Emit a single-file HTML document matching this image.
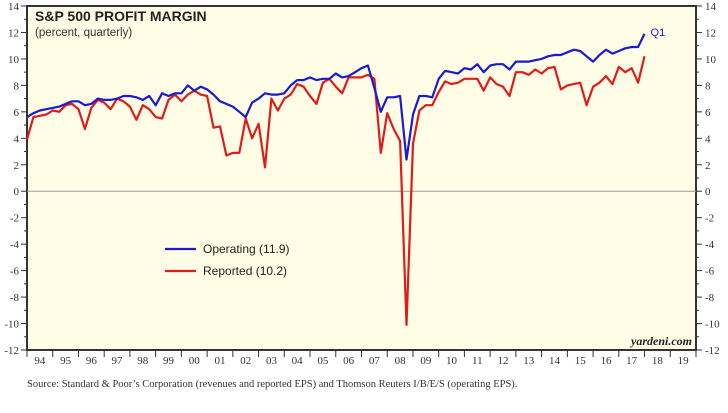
<!DOCTYPE html>
<html><head><meta charset="utf-8"><style>
body{margin:0;background:#fff;width:728px;height:408px;overflow:hidden}
svg text{font-family:"Liberation Serif",serif}
</style></head><body>
<svg id="c" width="728" height="408" xmlns="http://www.w3.org/2000/svg"></svg>
<script>
const years=[94,95,96,97,98,99,"00","01","02","03","04","05","06","07","08","09",10,11,12,13,14,15,16,17,18,19];
const yTicks=[14,12,10,8,6,4,2,0,-2,-4,-6,-8,-10,-12];
const operating=[5.6,5.9,6.1,6.2,6.3,6.4,6.6,6.8,6.8,6.5,6.6,7.0,6.9,6.9,7.0,7.2,7.2,7.1,6.9,7.2,6.5,7.4,7.2,7.4,7.4,8.0,7.6,7.9,7.7,7.3,6.8,6.6,6.4,6.0,5.6,6.7,7.0,7.4,7.3,7.3,7.4,8.0,8.4,8.4,8.6,8.4,8.5,8.5,8.9,8.6,8.7,9.0,9.3,9.5,7.8,6.0,7.1,7.1,7.2,2.4,5.8,7.2,7.2,7.1,8.5,9.1,9.0,8.9,9.3,9.2,9.6,9.0,9.5,9.6,9.6,9.2,9.8,9.8,9.8,9.9,10.0,10.2,10.3,10.3,10.5,10.7,10.6,10.2,9.8,10.3,10.7,10.4,10.6,10.8,10.9,10.9,11.9];
const reported=[3.9,5.6,5.7,5.8,6.1,6.0,6.5,6.6,6.2,4.7,6.3,6.9,6.7,6.2,7.0,6.8,6.4,5.4,6.5,6.2,5.6,5.5,6.9,7.3,6.8,7.3,7.6,7.3,7.2,4.8,4.9,2.7,2.9,2.9,5.5,4.0,5.1,1.8,7.0,6.1,7.0,7.3,8.1,7.9,7.2,6.6,8.2,8.5,7.9,7.4,8.6,8.6,8.6,8.8,8.5,2.9,5.9,4.7,3.8,-10.1,3.6,6.1,6.5,6.5,7.5,8.3,8.1,8.2,8.5,8.5,8.5,7.6,8.6,8.1,7.9,7.2,9.0,9.0,8.8,9.2,8.9,9.3,9.4,7.7,8.0,8.1,8.2,6.5,7.9,8.2,8.7,8.1,9.4,9.0,9.3,8.2,10.2];
const L=27,R=696,T=6,B=350,Y0=1994,NY=26;
const sx=t=>L+(t-Y0)*(R-L)/NY;
const sy=v=>T+(14-v)*(B-T)/26;
const svg=document.getElementById('c');const NS='http://www.w3.org/2000/svg';
function mk(tag,a,txt){const e=document.createElementNS(NS,tag);for(const k in a)e.setAttribute(k,a[k]);if(txt!==undefined)e.textContent=txt;svg.appendChild(e);return e;}
let e;
e=mk('rect',{x:L,y:T,width:R-L,height:B-T,fill:'#fffde6',stroke:'#333','stroke-width':2});

e=mk('line',{x1:L,x2:R,y1:sy(0),y2:sy(0),stroke:'#999','stroke-width':1});

for(let v=-12;v<=14;v++){const maj=v%2===0;const y=sy(v);
mk('line',{x1:L-(maj?6:3),x2:L,y1:y,y2:y,stroke:'#333'});
mk('line',{x1:R,x2:R+(maj?6:3),y1:y,y2:y,stroke:'#333'});}
yTicks.forEach(v=>{
e=mk('text',{x:L-8,y:sy(v)+4,'text-anchor':'end','font-size':11,fill:'#333'},v);

e=mk('text',{x:R+9,y:sy(v)+4,'text-anchor':'start','font-size':11,fill:'#333'},v);
});
for(let i=0;i<=NY;i++){mk('line',{x1:sx(Y0+i),x2:sx(Y0+i),y1:B,y2:B+7,stroke:'#333'});}
years.forEach((y,i)=>{e=mk('text',{x:sx(Y0+i+0.5),y:B+14,'text-anchor':'middle','font-size':11,fill:'#333'},y);
});
function line(d,col,name){const p=d.map((v,i)=>sx(Y0+i/4).toFixed(1)+','+sy(v).toFixed(1)).join(' ');
e=mk('polyline',{points:p,fill:'none',stroke:col,'stroke-width':2.2,'stroke-linejoin':'round'});
}
line(reported,'#dd1c1c','reported-line');
line(operating,'#1a1ad0','operating-line');
e=mk('text',{x:sx(Y0+(operating.length-1)/4)+6,y:sy(operating[operating.length-1])+2,'font-size':11,fill:'#1a1ad0',style:'font-family:"Liberation Sans",sans-serif'},'Q1');

e=mk('text',{x:35,y:21,'font-size':14,'font-weight':'bold',fill:'#222',style:'font-family:"Liberation Sans",sans-serif'},'S&P 500 PROFIT MARGIN');

e=mk('text',{x:35,y:36,'font-size':11.5,fill:'#333',style:'font-family:"Liberation Sans",sans-serif'},'(percent, quarterly)');

e=mk('line',{x1:165,x2:196,y1:249,y2:249,stroke:'#1a1ad0','stroke-width':2.2});

e=mk('text',{x:203,y:253,'font-size':12,fill:'#222',style:'font-family:"Liberation Sans",sans-serif'},'Operating (11.9)');

e=mk('line',{x1:165,x2:196,y1:271,y2:271,stroke:'#dd1c1c','stroke-width':2.2});

e=mk('text',{x:203,y:275,'font-size':12,fill:'#222',style:'font-family:"Liberation Sans",sans-serif'},'Reported (10.2)');

e=mk('text',{x:692,y:345,'text-anchor':'end','font-size':12,'font-weight':'bold','font-style':'italic',fill:'#222'},'yardeni.com');

e=mk('text',{x:27,y:387,'font-size':10.5,fill:'#333'},"Source: Standard & Poor\u2019s Corporation (revenues and reported EPS) and Thomson Reuters I/B/E/S (operating EPS).");

</script>
</body></html>
